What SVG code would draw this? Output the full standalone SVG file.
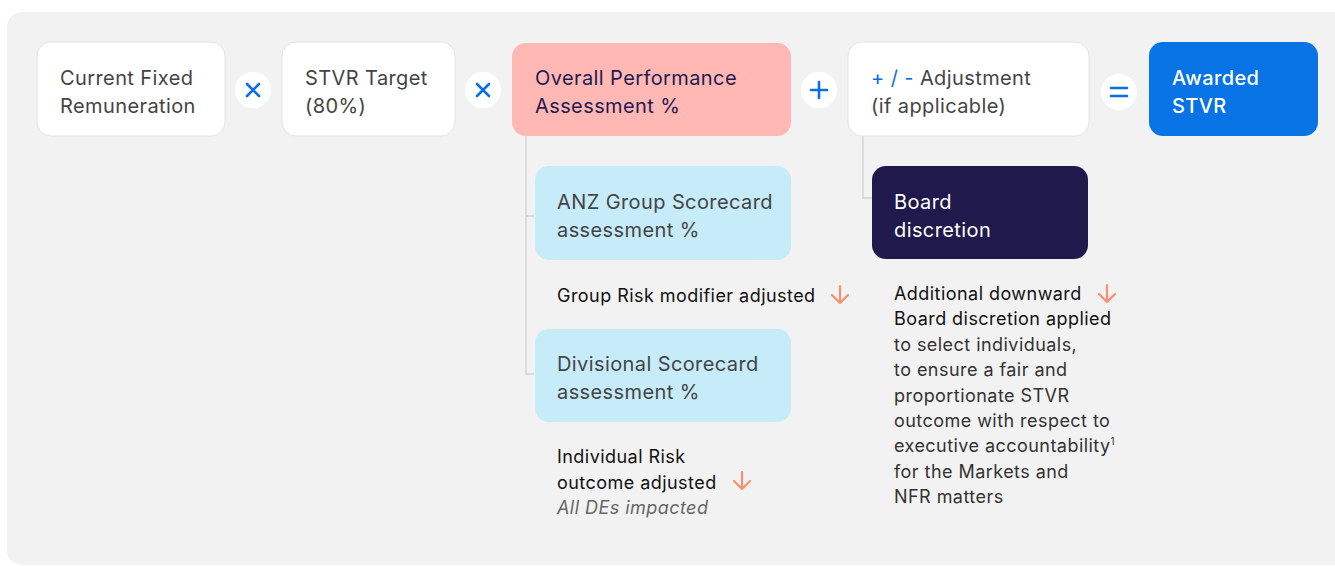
<svg xmlns="http://www.w3.org/2000/svg" width="1335" height="566" viewBox="0 0 1335 566">
<style>
text{font-family:Inter,"Noto Sans","Liberation Sans",sans-serif;}
.lbl{font-size:20px;fill:#444;letter-spacing:0.4px;}
.wbox{fill:#fff;stroke:#e4e4e4;stroke-width:1;}
.op{fill:#fff;}
.opm{stroke:#0a6fe0;stroke-width:2.6;stroke-linecap:round;fill:none;}
.conn{stroke:#d2d2d2;stroke-width:1.3;fill:none;}
.note{font-size:18px;fill:#111;letter-spacing:0.45px;}
.noteg{font-size:18px;fill:#333;letter-spacing:0.45px;}
.arr{stroke:#f7906f;stroke-width:2.2;fill:none;stroke-linecap:round;stroke-linejoin:round;}
</style>
<rect x="7" y="12" width="1345" height="553" rx="15" fill="#f2f2f2"/>
<g id="connectors">
<path class="conn" d="M526 136 V374 H534 M526 216 H534"/>
<path class="conn" d="M863 136 V198 H872"/>
</g>
<g id="n-current">
<rect class="wbox" x="37" y="42" width="188" height="94" rx="14"/>
<text class="lbl" x="60" y="85">Current Fixed</text>
<text class="lbl" x="60" y="113">Remuneration</text>
</g>
<g id="op1">
<circle class="op" cx="253" cy="90" r="18"/>
<path class="opm" d="M247 84 L259 96 M259 84 L247 96"/>
</g>
<g id="n-target">
<rect class="wbox" x="282" y="42" width="173" height="94" rx="14"/>
<text class="lbl" x="305" y="85">STVR Target</text>
<text class="lbl" x="305" y="113">(80%)</text>
</g>
<g id="op2">
<circle class="op" cx="483" cy="90" r="18"/>
<path class="opm" d="M477 84 L489 96 M489 84 L477 96"/>
</g>
<g id="n-overall">
<rect x="512" y="43" width="279" height="93" rx="14" fill="#ffb8b4"/>
<text class="lbl" x="535" y="85" style="fill:#1f1a4f">Overall Performance</text>
<text class="lbl" x="535" y="113" style="fill:#1f1a4f">Assessment %</text>
</g>
<g id="op3">
<circle class="op" cx="819" cy="90" r="18"/>
<path class="opm" d="M819 82 V98 M811 90 H827"/>
</g>
<g id="n-adjust">
<rect class="wbox" x="848" y="42" width="241" height="94" rx="14"/>
<text class="lbl" x="871" y="85"><tspan fill="#0a6fe0">+ / -</tspan> Adjustment</text>
<text class="lbl" x="871" y="113">(if applicable)</text>
</g>
<g id="op4">
<circle class="op" cx="1119" cy="92" r="18"/>
<path class="opm" d="M1111 88 H1127 M1111 96 H1127"/>
</g>
<g id="n-awarded">
<rect x="1149" y="42" width="169" height="94" rx="14" fill="#0873e5"/>
<text class="lbl" x="1172" y="85" style="fill:#fff;font-weight:500">Awarded</text>
<text class="lbl" x="1172" y="113" style="fill:#fff;font-weight:500">STVR</text>
</g>
<g id="n-group">
<rect x="535" y="166" width="256" height="94" rx="14" fill="#c6ebf9"/>
<text class="lbl" x="557" y="209">ANZ Group Scorecard</text>
<text class="lbl" x="557" y="237">assessment %</text>
</g>
<g id="note-group">
<text class="note" x="557" y="302">Group Risk modifier adjusted</text>
<path class="arr" d="M840 286 V303 M832 295 L840 303 L848 295"/>
</g>
<g id="n-divisional">
<rect x="535" y="329" width="256" height="93" rx="14" fill="#c6ebf9"/>
<text class="lbl" x="557" y="371">Divisional Scorecard</text>
<text class="lbl" x="557" y="399">assessment %</text>
</g>
<g id="note-individual">
<text class="note" x="557" y="463">Individual Risk</text>
<text class="note" x="557" y="489">outcome adjusted</text>
<path class="arr" d="M742 472 V489 M734 481 L742 489 L750 481"/>
<text class="noteg" x="557" y="514" style="font-style:italic;fill:#666">All DEs impacted</text>
</g>
<g id="n-board">
<rect x="872" y="166" width="216" height="93" rx="14" fill="#1f194c"/>
<text class="lbl" x="894" y="209" style="fill:#fff">Board</text>
<text class="lbl" x="894" y="237" style="fill:#fff">discretion</text>
</g>
<g id="note-board">
<text class="note" x="894" y="300">Additional downward</text>
<path class="arr" d="M1107 285 V302 M1099 294 L1107 302 L1115 294"/>
<text class="note" x="894" y="325">Board discretion applied</text>
<text class="noteg" x="894" y="351">to select individuals,</text>
<text class="noteg" x="894" y="376">to ensure a fair and</text>
<text class="noteg" x="894" y="402">proportionate STVR</text>
<text class="noteg" x="894" y="427">outcome with respect to</text>
<text class="noteg" x="894" y="452">executive accountability<tspan font-size="10" dy="-7">1</tspan></text>
<text class="noteg" x="894" y="478">for the Markets and</text>
<text class="noteg" x="894" y="503">NFR matters</text>
</g>
</svg>
